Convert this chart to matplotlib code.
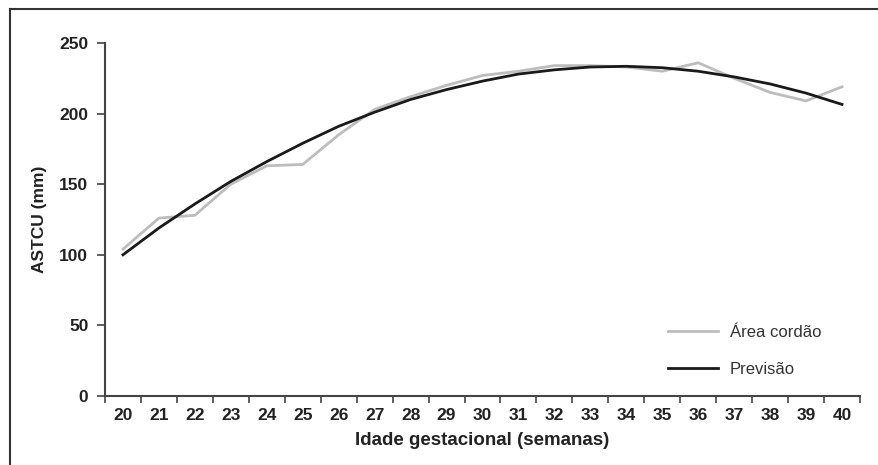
import numpy as np
import matplotlib
matplotlib.use("Agg")
import matplotlib.pyplot as plt
from matplotlib.lines import Line2D

weeks = [str(w) for w in range(20, 41)]
area_cordao = [104, 126, 128, 150, 163, 164, 185, 203, 212, 220, 227,
               230, 234, 234, 233, 230, 236, 225, 215, 209, 219]
previsao = [100, 119, 136, 152, 166, 179, 191, 201, 210, 217, 223,
            228, 231, 233, 233.5, 232.5, 230, 226, 221, 214.5, 206.5]
yticks = [0, 50, 100, 150, 200, 250]

plt.rcParams['font.family'] = ['Liberation Sans', 'DejaVu Sans']

fig = plt.figure(figsize=(8.79, 4.65), dpi=100)
ax = fig.add_axes([105/879, 1-396/465, (860-105)/879, (396-43)/465])

x = np.arange(len(weeks))
ax.plot(x, area_cordao, color='#bdbdbd', lw=2.0, label='Área cordão')
ax.plot(x, previsao, color='#1a1a1a', lw=2.0, label='Previsão')

ax.set_xlim(-0.5, len(weeks) - 0.5)
ax.set_ylim(0, 250)
ax.set_yticks(yticks)
ax.set_yticklabels([str(v) for v in yticks], fontweight='bold', fontsize=12.5, color='#222222')

ax.set_xticks(np.arange(-0.5, len(weeks), 1))
ax.set_xticklabels([''] * (len(weeks) + 1))
ax.set_xticks(x, minor=True)
ax.set_xticklabels(weeks, minor=True, fontweight='bold', fontsize=12.5, color='#222222')
ax.tick_params(axis='x', which='major', length=5, width=1.2, color='#444444', direction='out')
ax.tick_params(axis='x', which='minor', length=0, pad=9)
ax.tick_params(axis='y', which='major', length=6, width=1.2, color='#444444', direction='out', pad=6)

for s in ['top', 'right']:
    ax.spines[s].set_visible(False)
for s in ['left', 'bottom']:
    ax.spines[s].set_color('#444444')
    ax.spines[s].set_linewidth(1.5)

ax.set_xlabel('Idade gestacional (semanas)', fontweight='bold', fontsize=13.5, color='#222222', labelpad=6)
ax.set_ylabel('ASTCU (mm)', fontweight='bold', fontsize=12.5, color='#222222', labelpad=9)

leg = ax.legend(loc='upper left', bbox_to_anchor=((668-105)/755, (396-325)/353), frameon=False,
                fontsize=12, handlelength=3.0, labelspacing=1.3, handletextpad=0.7,
                borderpad=0, borderaxespad=0)
for t in leg.get_texts():
    t.set_color('#333333')

# outer frame lines (top and left)
fig.add_artist(Line2D([10/879, 1], [1-9/465, 1-9/465], color='#333333', lw=1.5, transform=fig.transFigure))
fig.add_artist(Line2D([10/879, 10/879], [0, 1-9/465], color='#333333', lw=1.5, transform=fig.transFigure))

fig.savefig('out.png', dpi=100)
